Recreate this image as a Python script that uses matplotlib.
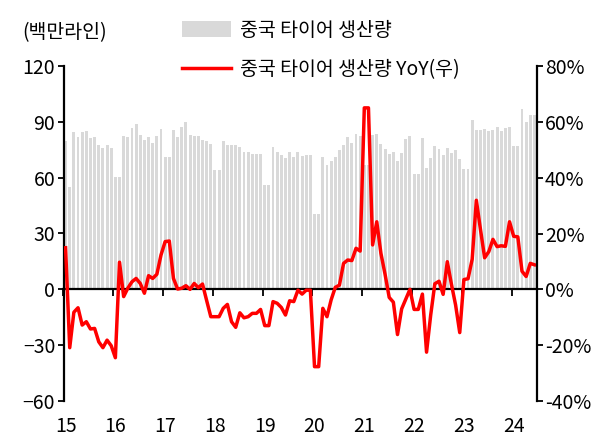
import matplotlib.pyplot as plt
import numpy as np

plt.rcParams['font.family'] = ['Noto Sans CJK KR', 'DejaVu Sans']

# 중국 타이어 생산량 (백만라인), 2015.01 ~ 2024.06
years = ['15', '16', '17', '18', '19', '20', '21', '22', '23', '24']
production = [
    79.7, 55.1, 84.7, 81.7, 84.5, 85.1, 81.3, 81.7, 77.5, 75.8, 77.5, 75.9,
    60.2, 60.2, 82.4, 82.0, 86.8, 88.6, 82.9, 80.2, 81.6, 78.4, 82.4, 86.1,
    70.9, 70.9, 85.6, 82.0, 87.2, 89.9, 83.0, 82.3, 82.3, 80.0, 79.8, 78.0,
    64.1, 64.1, 79.8, 77.5, 77.5, 77.5, 76.3, 73.9, 73.9, 72.7, 72.5, 72.5,
    55.9, 55.9, 76.3, 73.9, 72.2, 70.4, 73.6, 70.9, 73.9, 71.5, 72.3, 72.2,
    40.6, 40.6, 71.3, 66.8, 69.1, 70.9, 74.9, 77.4, 81.7, 78.8, 83.3, 82.4,
    67.0, 67.0, 82.9, 83.3, 77.9, 75.4, 72.9, 73.6, 68.9, 73.2, 80.8, 82.5,
    62.2, 62.2, 81.5, 65.0, 70.4, 77.2, 75.2, 72.3, 75.8, 73.4, 74.9, 70.0,
    64.6, 64.6, 91.0, 85.4, 85.4, 86.0, 85.1, 85.4, 87.0, 85.1, 86.5, 87.0,
    76.8, 76.8, 97.0, 89.7, 93.7, 93.7,
]
# YoY (%), 우축
yoy = [
    14.9, -20.9, -8.2, -6.6, -12.8, -11.6, -14.2, -14.0, -18.8, -20.9, -18.2, -20.2,
    -24.5, 9.7, -2.6, 0.4, 2.7, 3.9, 2.1, -1.4, 4.9, 3.9, 5.4, 12.3,
    17.1, 17.3, 3.9, 0.1, 0.4, 1.3, 0.0, 2.1, 0.6, 1.9, -4.0, -9.8,
    -9.8, -9.8, -6.8, -5.4, -11.6, -13.6, -8.4, -10.2, -9.8, -8.6, -8.6, -7.2,
    -13.0, -13.0, -4.4, -5.0, -6.5, -9.2, -4.1, -4.4, -0.3, -1.7, -0.3, -0.3,
    -27.7, -27.7, -6.8, -9.8, -3.8, 0.7, 1.5, 9.3, 10.5, 10.3, 14.7, 13.7,
    65.0, 65.0, 15.9, 24.2, 12.9, 5.4, -2.9, -4.6, -16.2, -7.0, -3.5, 0.0,
    -7.2, -7.2, -1.7, -22.5, -9.2, 2.0, 2.9, -1.8, 9.9, 1.8, -5.6, -15.5,
    3.5, 3.8, 10.8, 31.9, 21.4, 11.3, 13.5, 17.9, 15.3, 15.6, 15.4, 24.2,
    19.0, 18.8, 6.5, 4.6, 9.3, 8.8,
]

x = np.arange(len(production))
fs = 14

fig = plt.figure(figsize=(6.04, 4.43), dpi=100)
ax = fig.add_axes([63.5 / 604, 42 / 443, 473 / 604, 335 / 443])

bars = ax.bar(x, production, width=0.7, color='#d9d9d9', label='중국 타이어 생산량')
ax.set_xlim(-0.5, len(x) - 0.5)
ax.set_ylim(-60, 120)
ax.set_yticks(range(-60, 121, 30))

# x축: 0선 위에 눈금, 연도 라벨은 아래쪽
ax.spines['bottom'].set_position(('data', 0))
ax.spines['bottom'].set_linewidth(1.6)
ax.spines['left'].set_linewidth(1.6)
ax.spines['top'].set_visible(False)
ax.spines['right'].set_visible(False)
ax.set_xticks(np.arange(0, len(x), 12) - 0.5)
ax.tick_params(axis='x', length=5, width=1.3, labelbottom=False)
ax.tick_params(axis='y', length=4, width=1.3, labelsize=fs, pad=2)

sec = ax.secondary_xaxis('bottom')
sec.set_xticks(np.arange(0, len(x), 12), labels=years)
sec.tick_params(length=0, pad=11, labelsize=fs)
sec.spines['bottom'].set_visible(False)

ax2 = ax.twinx()
line, = ax2.plot(x, yoy, color='#ff0000', lw=2.5, label='중국 타이어 생산량 YoY(우)')
ax2.set_ylim(-40, 80)
ax2.set_yticks(range(-40, 81, 20))
ax2.set_yticklabels([f'{v}%' for v in range(-40, 81, 20)])
ax2.tick_params(axis='y', length=4, width=1.3, labelsize=fs, pad=2)
for s in ['top', 'bottom', 'left']:
    ax2.spines[s].set_visible(False)
ax2.spines['right'].set_linewidth(1.6)

fig.text(22 / 604, 1 - 33 / 443, '(백만라인)', fontsize=fs, va='center', ha='left')

fig.legend([bars, line], ['중국 타이어 생산량', '중국 타이어 생산량 YoY(우)'],
           loc='upper left', bbox_to_anchor=(182 / 604, 1 - 20 / 443),
           frameon=False, fontsize=fs, handlelength=2.5, handleheight=0.9,
           labelspacing=0.95, handletextpad=0.5, borderpad=0, borderaxespad=0)

fig.savefig('out.png', dpi=100)
